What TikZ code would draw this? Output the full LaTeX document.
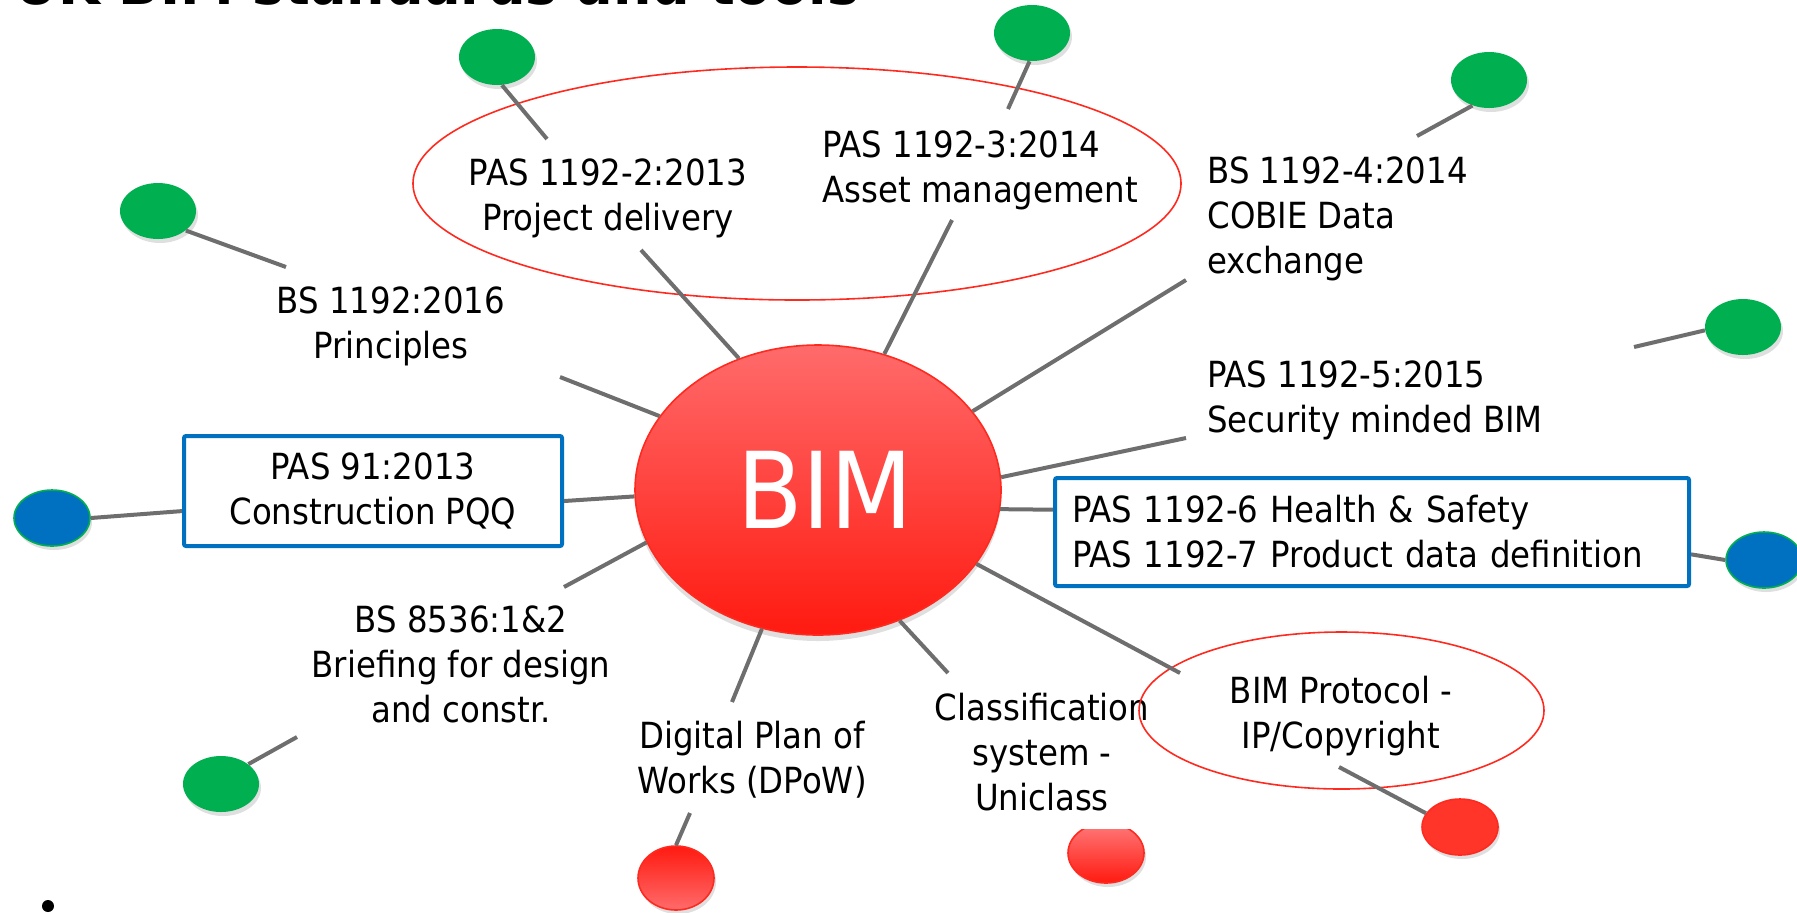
\documentclass[tikz,border=0pt]{standalone}
\usepackage{fontspec}
\setmainfont{DejaVu Sans Condensed}
\usetikzlibrary{shapes.geometric,shadows}

\definecolor{bimred}{HTML}{FF1A10}
\definecolor{bimpink}{HTML}{FF6B6B}
\definecolor{knobgreen}{HTML}{00B050}
\definecolor{boxblue}{HTML}{0070C0}
\definecolor{spokegray}{HTML}{6E6E6E}
\definecolor{ringred}{HTML}{FF2A1F}

\tikzset{
	spoke/.style={draw=spokegray, line width=2pt},
	lbl/.style={inner sep=0pt, font=\fontsize{18}{22.5}\selectfont},
	knob/.style={ellipse, minimum width=38pt, minimum height=28pt, inner sep=0pt,
		drop shadow={shadow xshift=1pt, shadow yshift=-2pt, opacity=.25}},
	greenknob/.style={knob, fill=knobgreen},
	blueknob/.style={knob, fill=boxblue, draw=knobgreen, line width=.8pt},
	redknob/.style={knob, draw=ringred, line width=.8pt},
	stdring/.style={ellipse, draw=ringred, line width=.8pt, inner sep=0pt},
	stdbox/.style={lbl, draw=boxblue, line width=2pt, rounded corners=1pt, fill=white}
}

\begin{document}
\begin{tikzpicture}[x=0.5pt, y=-0.5pt]
	\useasboundingbox (0,0) rectangle (1797,912);
	
	\node [inner sep=0pt, anchor=base east, font=\fontsize{30}{34}\selectfont\bfseries]
		(title) at (860,4) {UK BIM standards and tools};
	
	\node [ellipse, minimum width=183pt, minimum height=145pt, inner sep=0pt,
		draw=ringred, line width=.8pt, top color=bimpink, bottom color=bimred,
		drop shadow={shadow xshift=0pt, shadow yshift=-3pt, opacity=.25},
		text=white, font=\fontsize{53}{53}\selectfont] (bim) at (818,490) {\hspace*{7pt}BIM};
	
	% standards round the hub (anchor = baseline of the last line)
	\node [stdring, minimum width=384pt, minimum height=116.5pt] (ringA) at (797,183.5) {};
	\node [lbl, anchor=base, align=center] (pas2) at (608,230) {PAS 1192-2:2013\\Project delivery};
	\node [lbl, anchor=base west, align=left] (pas3) at (822,202) {PAS 1192-3:2014\\Asset management};
	\node [lbl, anchor=base west, align=left] (bs4) at (1207,273) {BS 1192-4:2014\\COBIE Data\\exchange};
	\node [lbl, anchor=base west, align=left] (pas5) at (1207,432) {PAS 1192-5:2015\\Security minded BIM};
	\node [lbl, anchor=base, align=center] (bs1192) at (391,358) {BS 1192:2016\\Principles};
	\node [stdbox, align=center, minimum width=189pt, minimum height=55pt] (pqq) at (373,491)
		{PAS 91:2013\\Construction PQQ};
	\node [stdbox, align=left, text width=300pt, inner xsep=8.5pt, minimum height=54pt, anchor=west]
		(hs) at (1053,532) {PAS 1192-6 Health \& Safety\\PAS 1192-7 Product data definition};
	\node [lbl, anchor=base, align=center] (bs8536) at (461,722) {BS 8536:1\&2\\Briefing for design\\and constr.};
	\node [lbl, anchor=base, align=center] (dpow) at (752,793) {Digital Plan of\\Works (DPoW)};
	\node [lbl, anchor=base, align=center] (uniclass) at (1042,810) {Classification\\system -\\Uniclass};
	\node [stdring, minimum width=202.5pt, minimum height=78.5pt] (ringK) at (1341.5,710.5) {};
	\node [lbl, anchor=base, align=center] (protocol) at (1341,748) {BIM Protocol -\\IP/Copyright};
	
	% knobs
	\node [greenknob] (knobA) at (497,57) {};
	\node [greenknob] (knobB) at (1032,33) {};
	\node [greenknob] (knobC) at (1489,80) {};
	\node [greenknob] (knobD) at (1743,327) {};
	\node [greenknob] (knobE) at (158,211) {};
	\node [blueknob] (knobF) at (52,518) {};
	\node [blueknob] (knobG) at (1764,560) {};
	\node [greenknob] (knobH) at (221,784) {};
	\node [redknob, top color=bimred, bottom color=bimpink, minimum height=32pt] (knobI) at (676,878) {};
	\begin{scope}
		\clip (1000,829) rectangle (1200,912);
		\node [redknob, top color=bimpink!90!white, bottom color=bimred, minimum height=30pt] (knobJ) at (1106,853) {};
	\end{scope}
	\node [redknob, fill=ringred!95!white] (knobK) at (1460,827) {};
	\node [circle, fill=black, inner sep=0pt, minimum size=6pt] (bullet) at (48,906) {};
	
	% gap ends of the spokes
	\coordinate (a-in) at (641,250);   \coordinate (a-out) at (547,139);
	\coordinate (b-in) at (952,220);   \coordinate (b-out) at (1008,109);
	\coordinate (c-in) at (1186,280);  \coordinate (c-out) at (1417,136);
	\coordinate (d-in) at (1186,438);  \coordinate (d-out) at (1634,347);
	\coordinate (e-in) at (560,377);   \coordinate (e-out) at (286,267);
	\coordinate (h-in) at (564,587);   \coordinate (h-out) at (297,737);
	\coordinate (i-in) at (732,702);   \coordinate (i-out) at (690,813);
	\coordinate (j-in) at (948,673);
	\coordinate (k-in) at (1180,673);  \coordinate (k-out) at (1339,767);
	
	\draw [spoke] (bim.121) -- (a-in)  (a-out) -- (knobA.-80);
	\draw [spoke] (bim.64) -- (b-in)   (b-out) -- (knobB.-95);
	\draw [spoke] (bim.27) -- (c-in)   (c-out) -- (knobC.-123);
	\draw [spoke] (bim.4) -- (d-in)    (d-out) -- (knobD.185);
	\draw [spoke] (bim.155) -- (e-in)  (e-out) -- (knobE.-35);
	\draw [spoke] (bim.182) -- (pqq.-3)  (pqq.186) -- (knobF.0);
	\draw [spoke] (bim.-6) -- (hs.176)   (hs.-4) -- (knobG.180);
	\draw [spoke] (bim.197) -- (h-in)  (h-out) -- (knobH.36);
	\draw [spoke] (bim.-112) -- (i-in) (i-out) -- (knobI.90);
	\draw [spoke] (bim.-58) -- (j-in);
	\draw [spoke] (bim.-25) -- (k-in)  (k-out) -- (knobK.158);
	
\end{tikzpicture}
\end{document}
